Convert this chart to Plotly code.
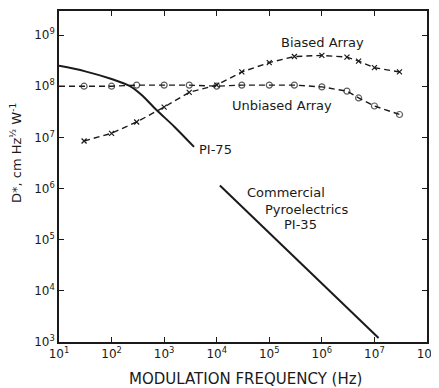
import plotly.graph_objects as go

freq = [30, 100, 300, 1000, 3000, 1e4, 3e4, 1e5, 3e5, 1e6, 3e6, 5e6, 1e7, 3e7]
unbiased_x = [10] + freq
unbiased_y = [1.0e8, 1.0e8, 1.0e8, 1.05e8, 1.05e8, 1.05e8, 1.0e8, 1.05e8, 1.05e8, 1.05e8, 0.97e8, 8.0e7, 5.9e7, 4.1e7, 2.8e7]
biased_y = [8.5e6, 1.2e7, 2.0e7, 3.9e7, 7.6e7, 1.05e8, 1.9e8, 2.9e8, 3.8e8, 4.0e8, 3.7e8, 3.1e8, 2.3e8, 1.9e8]
pi75_x = [10, 31.6, 100, 224, 400, 700, 1580, 3700]
pi75_y = [2.5e8, 1.95e8, 1.38e8, 1.0e8, 6.3e7, 3.5e7, 1.6e7, 6.5e6]
pi35_x = [1.15e4, 1.2e7]
pi35_y = [1.15e6, 1.2e3]
xticks = [1, 2, 3, 4, 5, 6, 7, 8]
yticks = [3, 4, 5, 6, 7, 8, 9]

ink = "#1a1a1a"
font = "DejaVu Sans"

OFF = 8  # page body margin
W, H = 439 - OFF, 388 - OFF
L, T = 59 - OFF, 11 - OFF
R = W - (427 - OFF)
B = H - (342 - OFF)
pw, ph = W - L - R, H - T - B

fig = go.Figure()
fig.add_trace(go.Scatter(
    x=unbiased_x, y=unbiased_y, mode="lines+markers",
    line=dict(color=ink, width=1.4, dash="6px,4px"),
    marker=dict(symbol="circle-open", size=[0] + [6] * len(freq), color=ink, line=dict(width=1.2)),
    showlegend=False))
fig.add_trace(go.Scatter(
    x=freq, y=biased_y, mode="lines+markers",
    line=dict(color=ink, width=1.4, dash="6px,4px"),
    marker=dict(symbol="x-thin-open", size=5, color=ink, line=dict(width=1.2, color=ink)),
    showlegend=False))
fig.add_trace(go.Scatter(x=pi75_x, y=pi75_y, mode="lines",
                         line=dict(color=ink, width=2, shape="spline"), showlegend=False))
fig.add_trace(go.Scatter(x=pi35_x, y=pi35_y, mode="lines",
                         line=dict(color=ink, width=2), showlegend=False))

def px2paper(px, py):
    px -= OFF
    py -= OFF
    return (px - L) / pw, 1 - (py - T) / ph

annots = [
    ("Biased Array", 322, 42, "center", 13, 0),
    ("Unbiased Array", 282, 106, "center", 13, 0),
    ("PI-75", 197, 149, "left", 13, 0),
    ("Commercial", 286, 192, "center", 13, 0),
    ("Pyroelectrics", 307, 209, "center", 13, 0),
    ("PI-35", 300, 225, "center", 13, 0),
    ("MODULATION FREQUENCY (Hz)", 245, 379, "center", 15, 0),
    ("D*, cm Hz<sup>½</sup> W<sup>-1</sup>", 16, 153, "center", 13, -90),
]
for text, px, py, al, sz, ang in annots:
    ax_, ay_ = px2paper(px, py)
    fig.add_annotation(text=text, x=ax_, y=ay_, xref="paper", yref="paper",
                       xanchor=al, yanchor="middle", showarrow=False, textangle=ang,
                       font=dict(family=font, size=sz, color=ink))

axis_common = dict(
    type="log", ticks="inside", ticklen=5, tickwidth=1.2, tickcolor=ink,
    showline=True, linecolor=ink, linewidth=1.6, mirror="ticks",
    showgrid=False, zeroline=False, automargin=False,
    tickfont=dict(size=12, family=font, color=ink),
)
fig.update_layout(
    width=W, height=H, margin=dict(l=L, r=R, t=T, b=B),
    paper_bgcolor="white", plot_bgcolor="white",
    font=dict(family=font, color=ink, size=12),
    xaxis=dict(range=[1, 8], tickvals=[10 ** v for v in xticks],
               ticktext=["10<sup>%d</sup>" % v for v in xticks], **axis_common),
    yaxis=dict(range=[3, 9.47], tickvals=[10 ** v for v in yticks],
               ticktext=["10<sup>%d</sup>" % v for v in yticks], **axis_common),
)
fig.write_html("out.html")
